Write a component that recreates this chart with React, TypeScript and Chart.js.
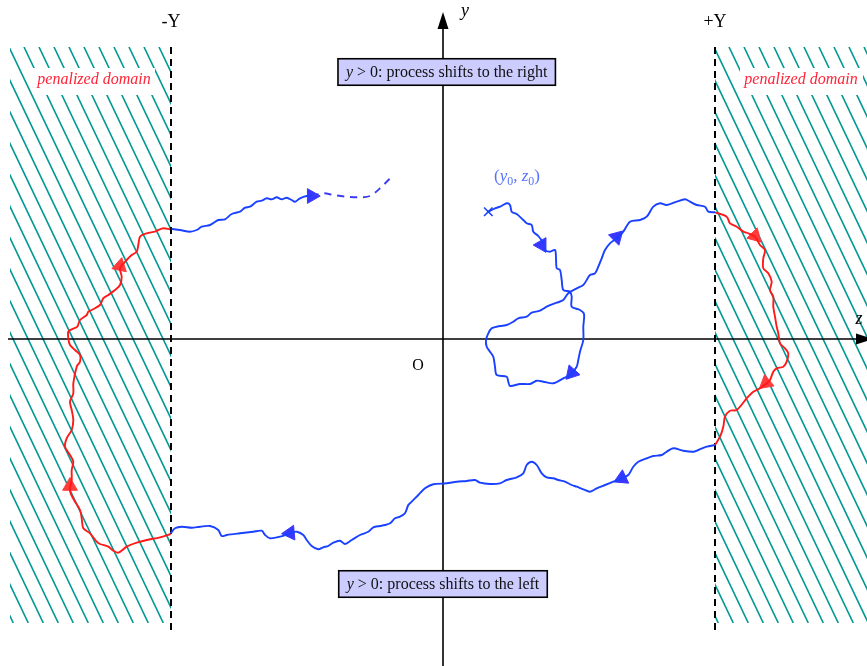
import React, { useEffect, useRef } from "react";
import { Chart, registerables } from "chart.js";
Chart.register(...registerables);

// ---- figure window (units: origin O at the axes crossing, y upward) ----
const zRange = [-443, 424];
const yRange = [-327, 339];

// ---- barriers -Y / +Y ----
const barrierZ = [-272, 272];
const barrierLabels = ["-Y", "+Y"];
const barrierTop = 292;
const barrierBottom = -291;

// ---- penalized domains ----
const penaltyZMin = [-433, 272];
const penaltyZMax = [-272, 433];
const penaltyYTop = 292;
const penaltyYBottom = -284;
const penaltyLabel = "penalized domain";
const penaltyLabelZ = [-349, 358];
const penaltyLabelY = 259;
const penaltyGapZMin = [-410, 297];
const penaltyGapZMax = [-288, 420];
const penaltyGapY = [271, 244];

// ---- regime boxes ----
const regimeTexts = ["process shifts to the right", "process shifts to the left"];
const regimeZ = [3.7, 0];
const regimeY = [267, -245];

// ---- start point ----
const startZ = [45.3];
const startY = [127.3];

// ---- trajectory pieces [z, y] ----
const blueStart: number[][] = [
  [45.3, 127.3], [52, 130.7], [57, 132.3], [63.7, 135.7], [67, 134], [68.7, 127.3], [73.7, 125],
  [80.3, 119], [83.7, 115.7], [88.7, 114], [90.3, 107.3], [95.3, 103], [100.3, 95.7], [102, 89],
  [107, 87.3], [112, 89], [113, 80.7], [113.7, 70.7], [117, 69], [118.7, 59], [120.3, 49],
  [127, 47.3], [128.7, 42.3], [128.7, 32.3], [137, 29], [141, 25], [140.3, 12.3], [140.3, -1],
  [137, -12.7], [135.3, -21], [133.7, -27.7], [127, -36], [120.3, -39.3], [110.3, -44.3],
  [100.3, -42.7], [93.7, -41.7], [87, -45], [77, -45], [67, -47], [65.3, -42.7], [63.7, -37.7],
  [53.7, -36], [52, -27.7], [50.3, -17.7], [47, -12.7], [43.7, -7.7], [43, -1], [45.3, 5.7],
  [48.7, 10.7], [53.7, 12.3], [63.7, 14], [70.3, 17.3], [75.3, 20.7], [83.7, 22.3], [88.7, 26.3],
  [97, 28.3], [103.7, 32.3], [113.7, 36.3], [120.3, 39], [125.3, 45.7], [133.7, 50.7], [140.3, 54],
  [143.7, 59], [147, 64], [152, 65.7], [155.3, 72.3], [158.7, 80.7], [162, 89], [167, 95.7],
  [173.7, 100.7], [180.3, 107.3], [187, 117.3], [197, 119], [203.7, 122.3], [210.3, 132.3],
  [217, 135.7], [223.7, 134], [233.7, 137.3], [242, 139.7], [247, 137.3], [253.7, 134],
  [262, 132.3], [265.3, 127.3], [272, 126.7],
];
const redRight: number[][] = [
  [272, 126.7], [283.7, 122.3], [287, 115.7], [293.7, 112.3], [300.3, 107.3], [305.3, 105.7],
  [312, 102.3], [317, 94], [322, 89], [320.3, 80.7], [320.3, 70.7], [325.3, 65.7], [328.7, 57.3],
  [327, 49], [330.3, 42.3], [330.3, 32.3], [332, 22.3], [333.7, 12.3], [335.3, 5.7], [337, -4.3],
  [342, -9.3], [345.3, -14.3], [343.7, -22.7], [340.3, -27.7], [333.7, -29.3], [330.3, -32.7],
  [327, -41], [323.7, -44.3], [317, -49.3], [310.3, -52.7], [303.7, -59.3], [293.7, -71],
  [287, -71.7], [282, -77.7], [280.3, -87.7], [277, -97.7], [272, -106],
];
const blueBottom: number[][] = [
  [272, -106], [263.7, -107.7], [255.3, -111], [250.3, -112.7], [240.3, -111.7], [230.3, -109.3],
  [223.7, -112.7], [218.7, -116], [210.3, -117], [203.7, -119.3], [195.3, -122.7], [190.3, -127.7],
  [185.3, -136], [178.7, -139.3], [170.3, -142.7], [162, -146], [153.7, -149.3], [147, -152.7],
  [140.3, -150.3], [133.7, -147.7], [128.7, -146], [122, -142.7], [115.3, -141], [110.3, -139.3],
  [103.7, -138.3], [98.7, -134.3], [93.7, -126], [88.7, -122.7], [83.7, -126], [80.3, -134.3],
  [73.7, -138.3], [63.7, -141], [57, -144.3], [47, -145], [37, -143.7], [32, -141], [23.7, -142],
  [13.7, -142.7], [3.7, -144.3], [-9.7, -145.3], [-18, -149.3], [-24.7, -156], [-31.3, -162.7],
  [-34.7, -166], [-38, -174.3], [-43, -177.7], [-48, -179.3], [-53, -184.3], [-58, -186],
  [-63, -187], [-69.7, -188.3], [-74.7, -192.7], [-83, -196], [-91.3, -201], [-98, -205],
  [-103, -201.7], [-109.7, -203.7], [-114.7, -207], [-119.7, -208.3], [-124.7, -210.3],
  [-131.3, -207], [-136.3, -201], [-139.7, -196], [-146.3, -192.7], [-153, -194.3], [-163, -197.7],
  [-173, -199.3], [-178, -196], [-181.3, -191.7], [-189.7, -192.7], [-203, -194.3], [-216.3, -196],
  [-221.3, -197], [-224.7, -191], [-233, -187], [-243, -187.7], [-251.3, -188.7], [-261.3, -187.7],
  [-268, -189.3], [-272.3, -194.3],
];
const redLeft: number[][] = [
  [-272.3, -195], [-283, -198.3], [-296.3, -201], [-306.3, -203.7], [-316.3, -207.7],
  [-324.7, -213.7], [-329.7, -211.7], [-334.7, -207.7], [-343, -205], [-346.3, -202.7],
  [-353, -194.3], [-359.7, -189.3], [-361.3, -179.3], [-363, -171], [-368, -162.7],
  [-372.3, -154.3], [-373, -149.3], [-371.3, -141], [-371.3, -131], [-369.7, -122.7], [-373, -116],
  [-378, -107.7], [-376.3, -99.3], [-371.3, -91], [-369.7, -81], [-371.3, -71], [-373, -62.7],
  [-369.7, -54.3], [-369.7, -44.3], [-366.3, -27.7], [-363, -22.7], [-363, -16], [-368, -11],
  [-373, -6], [-374.7, 0.7], [-374.7, 7.3], [-371.3, 9.7], [-365.7, 12.3], [-363, 19],
  [-356.3, 24], [-354.7, 27.3], [-351.3, 29], [-343, 34], [-339.7, 40.7], [-334.7, 44], [-328, 49],
  [-323, 54], [-321.3, 62.3], [-323, 70.7], [-316.3, 79], [-311.3, 84], [-306.3, 87.3],
  [-304.7, 94], [-303, 102.3], [-296.3, 105.7], [-288, 107.3], [-284.7, 109], [-279.7, 110.7],
  [-273, 109.7],
];
const blueEnd: number[][] = [
  [-271.3, 110], [-263, 109], [-253, 107.3], [-246.3, 109], [-241.3, 112.3], [-233, 114],
  [-224.7, 119], [-218, 119.7], [-211.3, 125], [-203, 127.3], [-198, 131.3], [-193, 132.3],
  [-186.3, 137.3], [-181.3, 138.3], [-176.3, 140.7], [-171.3, 139.7], [-166.3, 141.7],
  [-161.3, 139.7], [-156.3, 141.3], [-151.3, 139], [-148, 137.3], [-143, 140.7], [-136.3, 143],
  [-131.3, 143],
];
const blueFuture: number[][] = [
  [-131.3, 143], [-119.7, 145.7], [-109.7, 144], [-96.3, 142.3], [-83, 141.7], [-73, 143],
  [-63, 150.7], [-49.7, 164],
];

// ---- direction arrows [z, y, heading in degrees clockwise from up] ----
const blueArrows: number[][] = [
  [98.7, 94, 150], [128.7, -34, 222], [173.7, 102, 45], [178.7, -139.3, 245],
  [-153, -194, 265], [-131.3, 143, 90],
];
const redArrows: number[][] = [
  [312, 103, 135], [323, -44, 230], [-373, -147, 0], [-323, 73, 12],
];

const SERIF = '"Liberation Serif", "DejaVu Serif", serif';
const BLUE = "rgb(25,65,255)";
const RED = "rgb(255,25,25)";
const TEAL = "rgb(0,152,148)";

const toXY = (arr: number[][]) => arr.map((p) => ({ x: p[0], y: p[1] }));

type Run = { t: string; italic?: boolean; sub?: boolean };

function drawRuns(ctx: CanvasRenderingContext2D, runs: Run[], cx: number, cy: number, size: number, color: string) {
  const fontOf = (r: Run) => `${r.italic ? "italic " : ""}${r.sub ? size * 0.7 : size}px ${SERIF}`;
  let total = 0;
  for (const r of runs) { ctx.font = fontOf(r); total += ctx.measureText(r.t).width; }
  let x = cx - total / 2;
  ctx.fillStyle = color;
  ctx.textBaseline = "middle";
  ctx.textAlign = "left";
  for (const r of runs) {
    ctx.font = fontOf(r);
    ctx.fillText(r.t, x, r.sub ? cy + size * 0.28 : cy);
    x += ctx.measureText(r.t).width;
  }
  return total;
}

const diagramPlugin = {
  id: "diagram",
  beforeDatasetsDraw(chart: any) {
    const { ctx, scales } = chart;
    const X = (v: number) => scales.x.getPixelForValue(v);
    const Y = (v: number) => scales.y.getPixelForValue(v);
    ctx.save();
    // hatched penalized domains
    for (let i = 0; i < penaltyZMin.length; i++) {
      const l = X(penaltyZMin[i]), r = X(penaltyZMax[i]);
      const t = Y(penaltyYTop), b = Y(penaltyYBottom);
      ctx.save();
      ctx.beginPath();
      ctx.rect(l, t, r - l, b - t);
      ctx.clip();
      ctx.strokeStyle = TEAL;
      ctx.lineWidth = 1.6;
      const run = (b - t) / 2.1;
      const spacing = 15;
      const phase = 9;
      const k0 = Math.floor((l - run - phase) / spacing) - 1;
      for (let k = k0; phase + k * spacing < r + spacing; k++) {
        const c = phase + k * spacing;
        ctx.beginPath();
        ctx.moveTo(c, t);
        ctx.lineTo(c + run, b);
        ctx.stroke();
      }
      ctx.restore();
      // label gap
      const gl = X(penaltyGapZMin[i]), gr = X(penaltyGapZMax[i]);
      const gt = Y(penaltyGapY[0]), gb = Y(penaltyGapY[1]);
      ctx.fillStyle = "#fff";
      ctx.fillRect(gl, gt, gr - gl, gb - gt);
      drawRuns(ctx, [{ t: penaltyLabel, italic: true }], X(penaltyLabelZ[i]), Y(penaltyLabelY), 16, "rgb(255,35,55)");
    }
    // dashed barriers
    ctx.strokeStyle = "#000";
    ctx.lineWidth = 2;
    ctx.setLineDash([7, 5]);
    for (const z of barrierZ) {
      ctx.beginPath();
      ctx.moveTo(X(z), Y(barrierTop));
      ctx.lineTo(X(z), Y(barrierBottom));
      ctx.stroke();
    }
    ctx.setLineDash([]);
    // axes
    ctx.lineWidth = 1.6;
    const ox = X(0), oy = Y(0);
    const zTip = X(430), zStart = X(-435);
    const yTip = Y(327), yStart = Y(-330);
    ctx.beginPath();
    ctx.moveTo(zStart, oy); ctx.lineTo(zTip - 10, oy);
    ctx.moveTo(ox, yStart); ctx.lineTo(ox, yTip + 10);
    ctx.stroke();
    ctx.fillStyle = "#000";
    ctx.beginPath();
    ctx.moveTo(zTip, oy); ctx.lineTo(zTip - 17, oy - 5.5); ctx.lineTo(zTip - 17, oy + 5.5); ctx.closePath();
    ctx.fill();
    ctx.beginPath();
    ctx.moveTo(ox, yTip); ctx.lineTo(ox - 5.5, yTip + 17); ctx.lineTo(ox + 5.5, yTip + 17); ctx.closePath();
    ctx.fill();
    drawRuns(ctx, [{ t: "y", italic: true }], X(22), Y(328), 18, "#000");
    drawRuns(ctx, [{ t: "z", italic: true }], X(416), Y(20), 18, "#000");
    drawRuns(ctx, [{ t: "O" }], X(-25), Y(-27), 16, "#000");
    ctx.restore();
  },
  afterDatasetsDraw(chart: any) {
    const { ctx, scales } = chart;
    const X = (v: number) => scales.x.getPixelForValue(v);
    const Y = (v: number) => scales.y.getPixelForValue(v);
    ctx.save();
    // regime boxes
    for (let i = 0; i < regimeTexts.length; i++) {
      const runs: Run[] = [{ t: "y", italic: true }, { t: " > 0: " + regimeTexts[i] }];
      const size = 16;
      let w = 0;
      for (const r of runs) { ctx.font = `${r.italic ? "italic " : ""}${size}px ${SERIF}`; w += ctx.measureText(r.t).width; }
      const cx = X(regimeZ[i]), cy = Y(regimeY[i]);
      const bw = w + 16, bh = 26.5;
      ctx.fillStyle = "rgb(204,204,255)";
      ctx.fillRect(cx - bw / 2, cy - bh / 2, bw, bh);
      ctx.strokeStyle = "#000";
      ctx.lineWidth = 1.6;
      ctx.strokeRect(cx - bw / 2, cy - bh / 2, bw, bh);
      drawRuns(ctx, runs, cx, cy + 1, size, "#111");
    }
    // barrier labels
    for (let i = 0; i < barrierZ.length; i++) {
      drawRuns(ctx, [{ t: barrierLabels[i] }], X(barrierZ[i]), Y(317), 18, "#000");
    }
    // start label
    drawRuns(ctx, [
      { t: "(" }, { t: "y", italic: true }, { t: "0", sub: true }, { t: ", " },
      { t: "z", italic: true }, { t: "0", sub: true }, { t: ")" },
    ], X(74), Y(162), 17, "rgb(85,115,255)");
    ctx.restore();
  },
};

export default function App() {
  const ref = useRef<HTMLCanvasElement>(null);
  useEffect(() => {
    if (!ref.current) return;
    const line = (data: number[][], color: string, dash: number[] = []) => ({
      data: toXY(data),
      showLine: true,
      borderColor: color,
      borderWidth: 1.9,
      borderDash: dash,
      pointRadius: 0,
      tension: 0.3,
      fill: false,
    });
    const arrows = (data: number[][], color: string) => ({
      data: toXY(data),
      showLine: false,
      pointStyle: "triangle",
      pointRadius: 8.5,
      pointBackgroundColor: color,
      pointBorderColor: color,
      pointBorderWidth: 1,
      pointRotation: (c: any) => data[c.dataIndex]?.[2] ?? 0,
    });
    const chart = new Chart(ref.current, {
      type: "scatter",
      data: {
        datasets: [
          line(blueStart, BLUE),
          line(redRight, RED),
          line(blueBottom, BLUE),
          line(redLeft, RED),
          line(blueEnd, BLUE),
          line(blueFuture, "rgb(60,60,245)", [7, 6]),
          arrows(blueArrows, "rgb(55,55,255)") as any,
          arrows(redArrows, "rgb(255,60,60)") as any,
          {
            data: startZ.map((z, i) => ({ x: z, y: startY[i] })),
            showLine: false,
            pointStyle: "crossRot",
            pointRadius: 6,
            pointBorderColor: BLUE,
            pointBorderWidth: 1.6,
          } as any,
        ],
      },
      options: {
        animation: false,
        responsive: false,
        events: [],
        layout: { padding: 0 },
        plugins: { legend: { display: false }, tooltip: { enabled: false } },
        scales: {
          x: { type: "linear", min: zRange[0], max: zRange[1], display: false },
          y: { type: "linear", min: yRange[0], max: yRange[1], display: false },
        },
      },
      plugins: [diagramPlugin],
    });
    // Chart.js reserves room for point markers around the plot area; widen the
    // scale windows so that one figure unit stays one canvas pixel everywhere.
    const a = chart.chartArea;
    const sx: any = chart.options.scales!.x;
    const sy: any = chart.options.scales!.y;
    sx.min = zRange[0] + a.left;
    sx.max = zRange[0] + a.right;
    sy.max = yRange[1] - a.top;
    sy.min = yRange[1] - a.bottom;
    chart.update();
    return () => chart.destroy();
  }, []);
  return (
    <div style={{ position: "absolute", left: 0, top: 0, width: 867, height: 666, background: "#fff" }}>
      <canvas ref={ref} width={867} height={666} style={{ display: "block" }} />
    </div>
  );
}
